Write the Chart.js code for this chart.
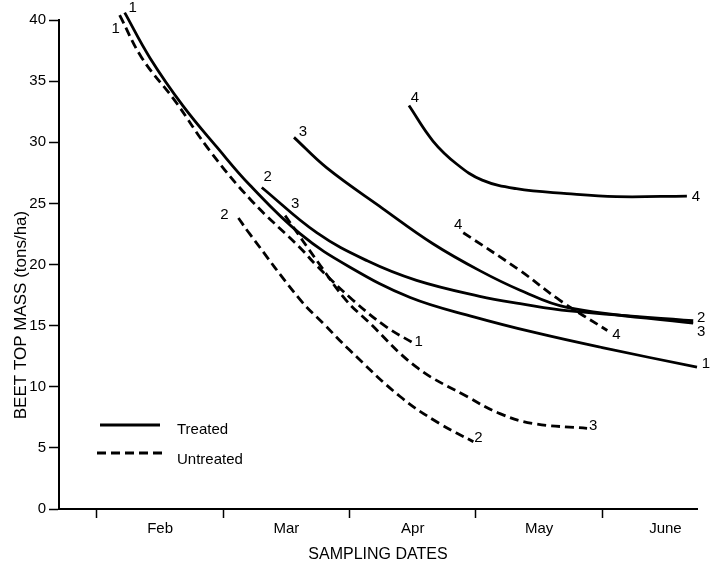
<html>

<head>
    <meta charset="UTF-8">
    <script src="https://cdn.jsdelivr.net/npm/chart.js"></script>
</head>
<style>
    body { margin: 0; background: #fff; }
    #wrap { width: 721px; height: 568px; }
</style>

<body>
    <div id="wrap"><canvas id="myChart"></canvas></div>
</body>
<script>
  // x = months after Feb 1 (0 = Feb, 1 = Mar ...), y = beet top mass in tons/ha
  const months = ['Feb', 'Mar', 'Apr', 'May', 'June'];

  const treated1 = [[0.22, 40.6], [0.42, 36.9], [0.68, 33.0], [0.95, 29.6], [1.21, 26.5], [1.61, 22.5], [2.0, 19.8], [2.48, 17.3], [2.99, 15.7], [3.48, 14.4], [4.0, 13.2], [4.75, 11.6]];
  const treated2 = [[1.305, 26.3], [1.74, 22.6], [2.14, 20.3], [2.53, 18.7], [3.03, 17.4], [3.35, 16.8], [3.74, 16.2], [4.72, 15.4]];
  const treated3 = [[1.56, 30.4], [1.82, 27.9], [2.26, 24.6], [2.66, 21.7], [3.03, 19.5], [3.35, 17.9], [3.72, 16.5], [4.72, 15.2]];
  const treated4 = [[2.47, 33.0], [2.66, 30.1], [2.85, 28.2], [3.05, 26.9], [3.32, 26.2], [3.72, 25.8], [4.11, 25.55], [4.67, 25.6]];

  const untreated1 = [[0.18, 40.4], [0.356, 36.9], [0.617, 33.4], [0.894, 29.3], [1.226, 25.2], [1.606, 21.4], [1.74, 19.9], [2.025, 17.1], [2.29, 14.9], [2.5, 13.6]];
  const untreated2 = [[1.12, 23.8], [1.21, 22.5], [1.61, 17.1], [1.79, 15.2], [2.0, 13.0], [2.4, 9.2], [2.71, 7.0], [2.98, 5.5]];
  const untreated3 = [[1.49, 24.0], [1.77, 19.9], [1.97, 17.1], [2.14, 15.4], [2.53, 11.6], [2.93, 9.2], [3.19, 7.8], [3.45, 7.0], [3.88, 6.6]];
  const untreated4 = [[2.9, 22.6], [3.35, 19.5], [3.66, 17.1], [4.04, 14.6]];

  const curveNumbers = ['1', '2', '3', '4', '1', '2', '3', '4'];

  // where the curve numbers sit, px away from the first / last point
  const startOffsets = [[8, -5], [6, -11], [9, -6], [6, -8], [-4, 14], [-14, -3], [10, -12], [-5, -8]];
  const endOffsets = [[9, -3], [8, -3], [8, 9], [9, 1], [6, -1], [5, -4], [6, -2], [9, 4]];

  const FONT = '"Liberation Sans", Arial, sans-serif';
  Chart.defaults.font.family = FONT;
  Chart.defaults.color = '#000';

  function series(label, pts, dashed) {
    return {
      label: label,
      data: pts.map(p => ({ x: p[0], y: p[1] })),
      borderColor: '#000',
      borderWidth: 2.8,
      borderDash: dashed ? [9, 5] : [],
      pointRadius: 0,
      tension: 0.4,
      fill: false,
      clip: false
    };
  }

  const extras = {
    id: 'extras',
    afterDatasetsDraw(chart) {
      const ctx = chart.ctx;
      const area = chart.chartArea;
      ctx.save();
      ctx.fillStyle = '#000';
      ctx.strokeStyle = '#000';

      // numbers at the curve ends
      ctx.font = '15px ' + FONT;
      ctx.textAlign = 'center';
      ctx.textBaseline = 'middle';
      chart.data.datasets.forEach((ds, i) => {
        const pts = chart.getDatasetMeta(i).data;
        const a = pts[0], b = pts[pts.length - 1];
        ctx.fillText(curveNumbers[i], a.x + startOffsets[i][0], a.y + startOffsets[i][1]);
        ctx.fillText(curveNumbers[i], b.x + endOffsets[i][0], b.y + endOffsets[i][1]);
      });

      // legend
      ctx.lineWidth = 2.8;
      ctx.beginPath();
      ctx.moveTo(area.left + 41, 425);
      ctx.lineTo(area.left + 101, 425);
      ctx.stroke();
      ctx.setLineDash([9, 5]);
      ctx.beginPath();
      ctx.moveTo(area.left + 38, 453);
      ctx.lineTo(area.left + 103, 453);
      ctx.stroke();
      ctx.setLineDash([]);
      ctx.font = '15px ' + FONT;
      ctx.textAlign = 'left';
      ctx.fillText('Treated', area.left + 118, 430);
      ctx.fillText('Untreated', area.left + 118, 460);

      // y axis title
      ctx.font = '17px ' + FONT;
      ctx.textAlign = 'center';
      ctx.translate(21, 315);
      ctx.rotate(-Math.PI / 2);
      ctx.fillText('BEET TOP MASS (tons/ha)', 0, 0);
      ctx.restore();
    }
  };

  const data = {
    datasets: [
      series('Treated 1', treated1, false),
      series('Treated 2', treated2, false),
      series('Treated 3', treated3, false),
      series('Treated 4', treated4, false),
      series('Untreated 1', untreated1, true),
      series('Untreated 2', untreated2, true),
      series('Untreated 3', untreated3, true),
      series('Untreated 4', untreated4, true)
    ]
  };

  const config = {
    type: 'line',
    data: data,
    plugins: [extras],
    options: {
      animation: false,
      responsive: true,
      maintainAspectRatio: false,
      layout: { padding: { left: 0, right: 24, top: 20, bottom: 0 } },
      scales: {
        x: {
          type: 'linear',
          min: -0.3,
          max: 4.75,
          afterBuildTicks: s => { s.ticks = [0, 0.5, 1, 1.5, 2, 2.5, 3, 3.5, 4, 4.5].map(v => ({ value: v })); },
          afterFit: s => { s.height = 59; },
          grid: {
            drawOnChartArea: false,
            tickLength: 9,
            tickWidth: 1.5,
            tickColor: c => (c.tick && c.tick.value % 1 === 0) ? '#000' : 'rgba(0,0,0,0)'
          },
          border: { color: '#000', width: 2 },
          ticks: {
            autoSkip: false,
            maxRotation: 0,
            padding: 2,
            font: { size: 15 },
            callback: v => (v % 1) ? months[Math.floor(v)] : ''
          },
          title: { display: true, text: 'SAMPLING DATES', font: { size: 16 }, padding: { top: 0, bottom: 4 } }
        },
        y: {
          min: 0,
          max: 40,
          afterFit: s => { s.width = 59; },
          ticks: { stepSize: 5, padding: 3, font: { size: 15 } },
          grid: { drawOnChartArea: false, tickLength: 10, tickWidth: 1.5, tickColor: '#000' },
          border: { color: '#000', width: 2 }
        }
      },
      plugins: {
        legend: { display: false },
        tooltip: { enabled: false }
      }
    }
  };

  new Chart(document.getElementById('myChart'), config);
</script>
</html>
